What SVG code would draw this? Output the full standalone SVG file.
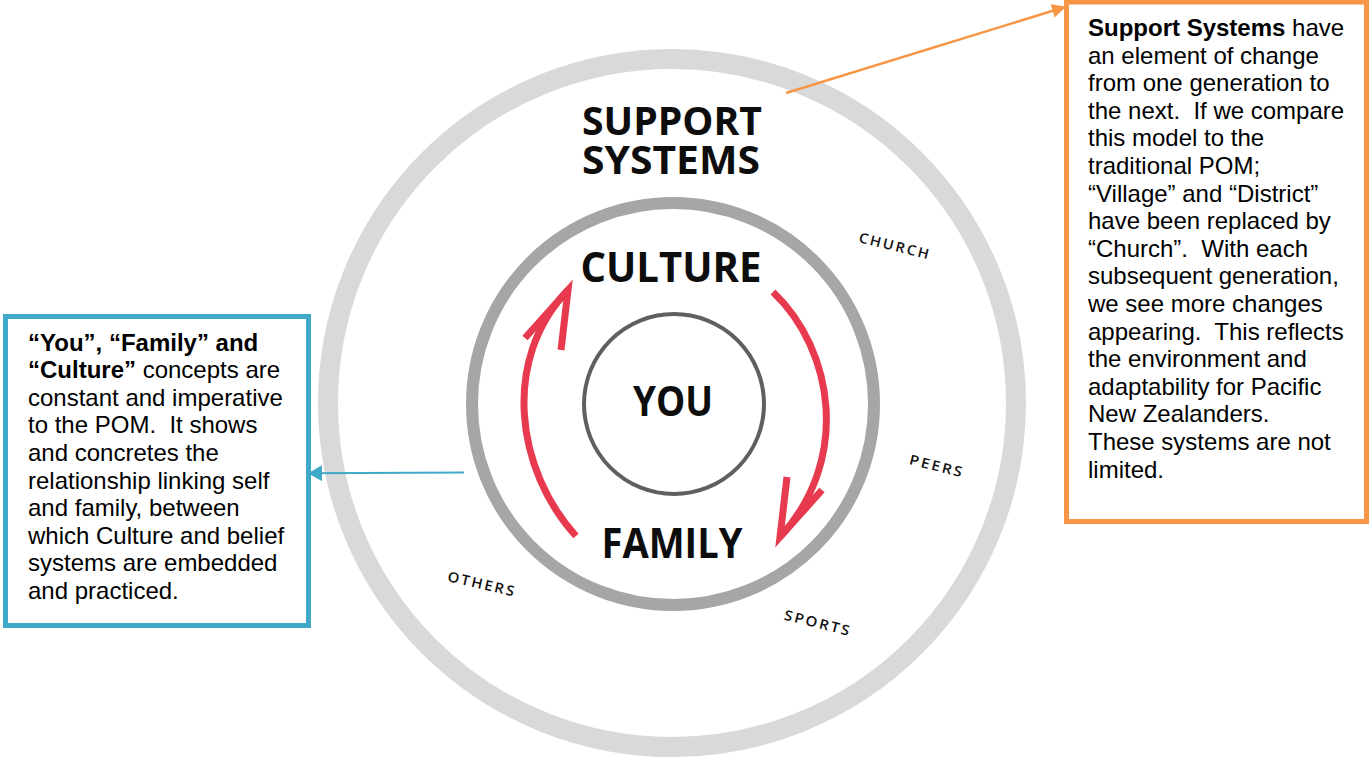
<svg xmlns="http://www.w3.org/2000/svg" width="1369" height="760" viewBox="0 0 1369 760">
<defs>
<style>
.big{font-family:"Open Sans","Noto Sans","Liberation Sans",sans-serif;font-weight:bold;fill:#0d0d0d;text-anchor:middle}
.small{font-family:"Open Sans","Lato","Liberation Sans",sans-serif;font-size:14px;font-weight:600;fill:#111;text-anchor:middle;letter-spacing:2px}
.note{font-family:"Liberation Sans",Arial,sans-serif;font-size:24px;fill:#000;white-space:pre}
.b{font-weight:bold}
.red{fill:none;stroke:#e83a4f;stroke-width:7;stroke-linecap:butt;stroke-linejoin:miter}
</style>
<marker id="ahBlue" markerWidth="14" markerHeight="16" refX="13" refY="8" orient="auto" markerUnits="userSpaceOnUse">
<path d="M0,0 L14,8 L0,16 Z" fill="#41a9c8"/>
</marker>
<marker id="ahOrange" markerWidth="14" markerHeight="14" refX="13" refY="7" orient="auto" markerUnits="userSpaceOnUse">
<path d="M0,0 L14,7 L0,14 Z" fill="#f79646"/>
</marker>
</defs>
<rect width="1369" height="760" fill="#fff"/>

<g id="support-systems">
<circle cx="672" cy="403" r="344" fill="none" stroke="#d9d9d9" stroke-width="20"/>
<text class="big" font-size="40"><tspan x="672" y="135" textLength="180" lengthAdjust="spacingAndGlyphs">SUPPORT</tspan><tspan x="671" y="174" textLength="178" lengthAdjust="spacingAndGlyphs">SYSTEMS</tspan></text>
</g>

<g id="support-labels">
<text class="small" transform="translate(895,246) rotate(14)" y="5" textLength="74" lengthAdjust="spacingAndGlyphs">CHURCH</text>
<text class="small" transform="translate(937,466) rotate(14)" y="5" textLength="56" lengthAdjust="spacingAndGlyphs">PEERS</text>
<text class="small" transform="translate(818,623) rotate(14)" y="5" textLength="69" lengthAdjust="spacingAndGlyphs">SPORTS</text>
<text class="small" transform="translate(482,584) rotate(13)" y="5" textLength="70" lengthAdjust="spacingAndGlyphs">OTHERS</text>
</g>

<g id="culture-family">
<circle cx="673" cy="404" r="201" fill="none" stroke="#a6a6a6" stroke-width="12"/>
<text class="big" x="671" y="282" font-size="42" textLength="181" lengthAdjust="spacingAndGlyphs">CULTURE</text>
<text class="big" x="672" y="558" font-size="42" textLength="141" lengthAdjust="spacingAndGlyphs">FAMILY</text>
</g>

<g id="cycle-arrows">
<path class="red" d="M576 536 C516 470, 501 360, 568 290"/>
<path class="red" d="M525 338 L568 290 L561 350"/>
<path class="red" d="M773 292 C834 350, 851 460, 780 537"/>
<path class="red" d="M787 477 L780 537 L822 490"/>
</g>

<g id="you">
<circle cx="674" cy="404" r="90" fill="none" stroke="#5f5f5f" stroke-width="4"/>
<text class="big" x="673" y="415.5" font-size="42" textLength="80" lengthAdjust="spacingAndGlyphs">YOU</text>
</g>

<g id="note-left">
<rect x="5.5" y="316.5" width="303" height="309" fill="#fff" stroke="#41a9c8" stroke-width="5"/>
<text class="note" x="28" y="350.5"><tspan class="b">“You”, “Family” and</tspan></text>
<text class="note" x="28" y="378.1"><tspan class="b">“Culture”</tspan> concepts are</text>
<text class="note" x="28" y="405.7">constant and imperative</text>
<text class="note" x="28" y="433.3">to the POM.  It shows</text>
<text class="note" x="28" y="460.9">and concretes the</text>
<text class="note" x="28" y="488.5">relationship linking self</text>
<text class="note" x="28" y="516.1">and family, between</text>
<text class="note" x="28" y="543.7">which Culture and belief</text>
<text class="note" x="28" y="571.3">systems are embedded</text>
<text class="note" x="28" y="598.9">and practiced.</text>
</g>

<g id="note-right">
<rect x="1066.5" y="2" width="300" height="519.5" fill="#fff" stroke="#f79646" stroke-width="5"/>
<text class="note" x="1088" y="36"><tspan class="b">Support Systems</tspan> have</text>
<text class="note" x="1088" y="63.6">an element of change</text>
<text class="note" x="1088" y="91.2">from one generation to</text>
<text class="note" x="1088" y="118.8">the next.  If we compare</text>
<text class="note" x="1088" y="146.4">this model to the</text>
<text class="note" x="1088" y="174">traditional POM;</text>
<text class="note" x="1088" y="201.6">“Village” and “District”</text>
<text class="note" x="1088" y="229.2">have been replaced by</text>
<text class="note" x="1088" y="256.8">“Church”.  With each</text>
<text class="note" x="1088" y="284.4">subsequent generation,</text>
<text class="note" x="1088" y="312">we see more changes</text>
<text class="note" x="1088" y="339.6">appearing.  This reflects</text>
<text class="note" x="1088" y="367.2">the environment and</text>
<text class="note" x="1088" y="394.8">adaptability for Pacific</text>
<text class="note" x="1088" y="422.4">New Zealanders.</text>
<text class="note" x="1088" y="450">These systems are not</text>
<text class="note" x="1088" y="477.6">limited.</text>
</g>

<g id="connectors">
<line x1="464" y1="472.5" x2="309" y2="473.3" stroke="#41a9c8" stroke-width="2" marker-end="url(#ahBlue)"/>
<line x1="786" y1="93" x2="1065" y2="7" stroke="#f79646" stroke-width="2.5" marker-end="url(#ahOrange)"/>
</g>
</svg>
